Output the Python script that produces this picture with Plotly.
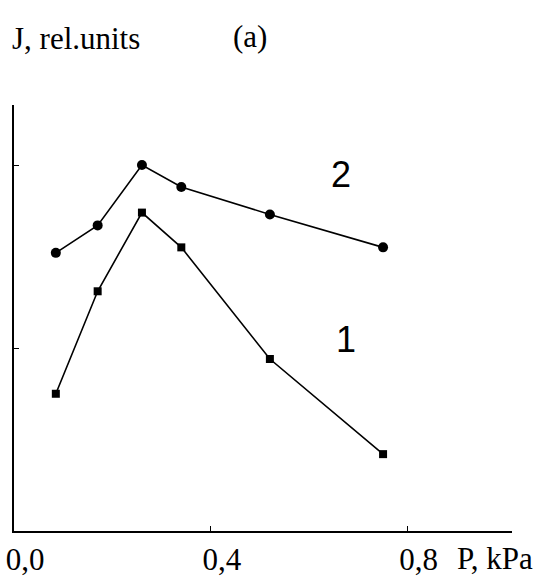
import plotly.graph_objects as go

# Data
pressure_1 = [0.085, 0.17, 0.26, 0.34, 0.52, 0.75]
intensity_1 = [0.75, 1.31, 1.74, 1.55, 0.94, 0.42]

pressure_2 = [0.085, 0.17, 0.26, 0.34, 0.52, 0.75]
intensity_2 = [1.52, 1.67, 2.00, 1.88, 1.73, 1.55]

x_tick_vals = [0.0, 0.4, 0.8]
x_tick_text = ["0,0", "0,4", "0,8"]
y_tick_vals = [0, 1, 2]

serif = "'Liberation Serif', 'Times New Roman', Times, serif"
sans = "'Liberation Sans', Arial, sans-serif"

W, H = 537, 581
ml, mr, mt, mb = 14, 25, 105, 50
pw, ph = W - ml - mr, H - mt - mb


def px_x(p):
    return (p - ml) / pw


def px_y(p):
    return (H - mb - p) / ph


fig = go.Figure()
fig.add_trace(go.Scatter(
    x=pressure_2, y=intensity_2, mode="lines+markers",
    line=dict(color="black", width=1.6),
    marker=dict(symbol="circle", size=10, color="black"),
    showlegend=False, hoverinfo="skip"))
fig.add_trace(go.Scatter(
    x=pressure_1, y=intensity_1, mode="lines+markers",
    line=dict(color="black", width=1.6),
    marker=dict(symbol="square", size=8, color="black"),
    showlegend=False, hoverinfo="skip"))

fig.update_layout(
    width=W, height=H,
    margin=dict(l=ml, r=mr, t=mt, b=mb),
    paper_bgcolor="white", plot_bgcolor="white",
    xaxis=dict(range=[0, 1.012], showgrid=False, zeroline=False,
               showline=True, linecolor="black", linewidth=1.6,
               tickvals=x_tick_vals, ticktext=x_tick_text,
               ticks="inside", ticklen=5, tickwidth=1.2, tickcolor="black",
               ticklabelshift=11, automargin=False,
               tickfont=dict(family=serif, size=31, color="black")),
    yaxis=dict(range=[0, 2.328], showgrid=False, zeroline=False,
               showline=True, linecolor="black", linewidth=1.6,
               tickvals=y_tick_vals, showticklabels=False, automargin=False,
               ticks="inside", ticklen=5, tickwidth=1.2, tickcolor="black"),
    annotations=[
        dict(text="J, rel.units", x=px_x(10), y=px_y(38), xref="paper", yref="paper",
             showarrow=False, font=dict(family=serif, size=31, color="black"),
             xanchor="left", yanchor="middle"),
        dict(text="(a)", x=px_x(250), y=px_y(36), xref="paper", yref="paper",
             showarrow=False, font=dict(family=serif, size=31, color="black"),
             xanchor="center", yanchor="middle"),
        dict(text="P, kPa", x=px_x(535), y=px_y(558), xref="paper", yref="paper",
             showarrow=False, font=dict(family=serif, size=31, color="black"),
             xanchor="right", yanchor="middle"),
        dict(text="2", x=0.665, y=1.95, xref="x", yref="y",
             showarrow=False, font=dict(family=sans, size=36, color="black")),
        dict(text="1", x=0.675, y=1.045, xref="x", yref="y",
             showarrow=False, font=dict(family=sans, size=36, color="black")),
    ],
)

fig.write_html("out.html")
